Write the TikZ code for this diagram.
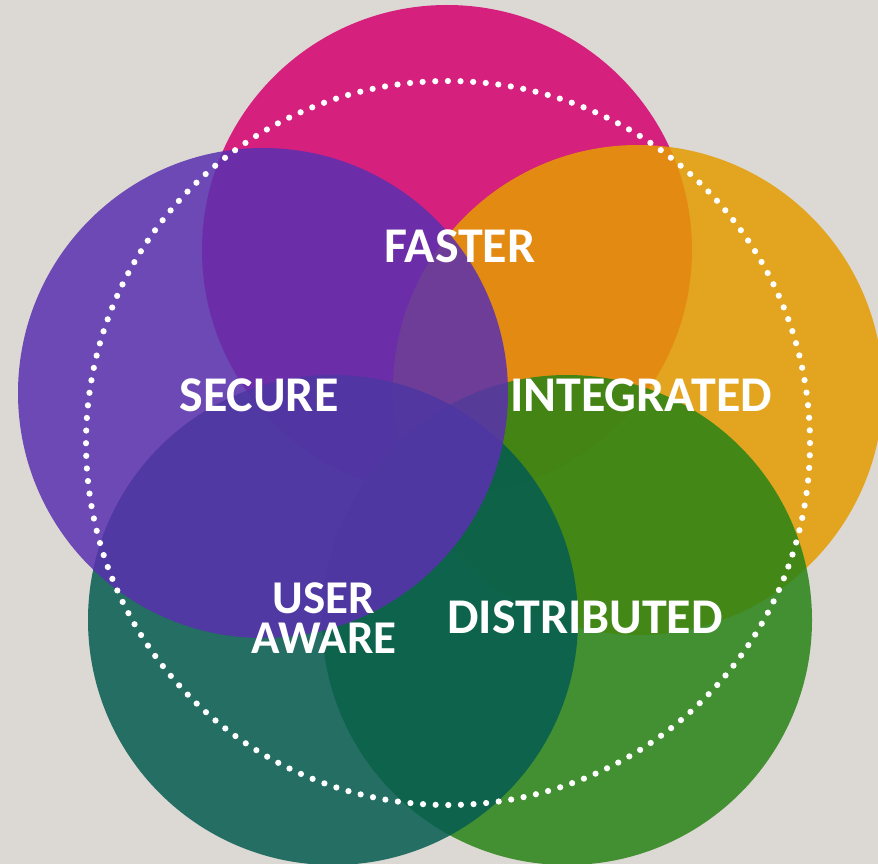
\documentclass[tikz,border=0pt]{standalone}
\usepackage{fontspec}
\setmainfont{Carlito}
\definecolor{bgc}{RGB}{220,216,211}
\definecolor{cpink}{RGB}{213,0,112}
\definecolor{corange}{RGB}{229,157,0}
\definecolor{cgreen}{RGB}{40,132,22}
\definecolor{cteal}{RGB}{4,92,80}
\definecolor{cpurple}{RGB}{90,48,176}
\tikzset{
  blob/.style={circle, minimum size=490pt, inner sep=0pt, fill opacity=0.85},
  lbl/.style={text=white, font=\fontsize{50}{50}\selectfont\bfseries, align=center, inner sep=0pt},
  ring/.style={draw=white, line width=6.2pt, line cap=round, dash pattern=on 0pt off 12.64pt}
}
\begin{document}
\begin{tikzpicture}[x=1pt,y=-1pt]
\fill[bgc] (0,0) rectangle (878,864);
\useasboundingbox (0,0) rectangle (878,864);
\node[blob, fill=cpink] (faster) at (447,250) {};
\node[blob, fill=corange] (integrated) at (638,390) {};
\node[blob, fill=cgreen] (distributed) at (567,620) {};
\node[blob, fill=cteal] (useraware) at (333,620) {};
\node[blob, fill=cpurple] (secure) at (263,393) {};
\node[circle, minimum size=724pt, inner sep=0pt, ring] (ringc) at (448,443) {};
\node[lbl] (tfaster) at (460,246) {FASTER};
\node[lbl] (tsecure) at (259,395) {SECURE};
\node[lbl] (tintegrated) at (641,395) {INTEGRATED};
\node[lbl, font=\fontsize{47}{40}\selectfont\bfseries] (tuser) at (324,618) {USER\\AWARE};
\node[lbl] (tdistributed) at (585,617) {DISTRIBUTED};
\end{tikzpicture}
\end{document}
